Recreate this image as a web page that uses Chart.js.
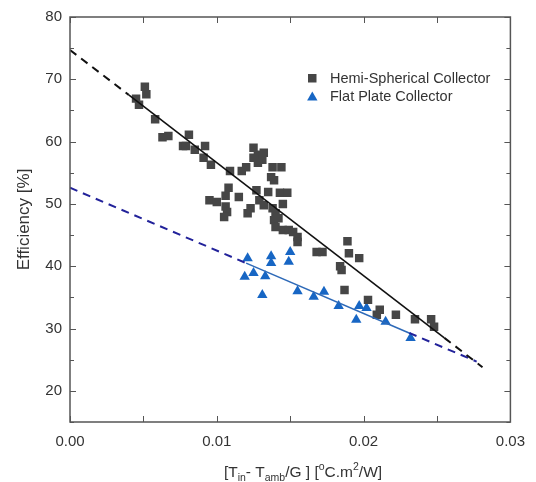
<!DOCTYPE html>
<html>
<head>
<meta charset="utf-8">
<script src="https://cdn.jsdelivr.net/npm/chart.js@4"></script>
<style>
html,body{margin:0;padding:0;background:#fff;}
#c{display:block;}
</style>
</head>
<body>
<canvas id="c" width="536" height="482"></canvas>
<script>
// ---- Data ----
const hemiX = [0.0045,0.0047,0.0051,0.0052,0.0058,0.0063,0.0067,0.0077,0.0079,0.0081,
  0.0085,0.0092,0.0091,0.0096,0.0109,0.0117,0.0120,0.0125,0.0125,0.0128,
  0.0132,0.0131,0.0128,0.0138,0.0144,0.0137,0.0139,0.0108,0.0115,0.0095,
  0.0100,0.0106,0.0106,0.0107,0.0105,0.0127,0.0135,0.0143,0.0148,0.0145,
  0.0129,0.0123,0.0121,0.0132,0.0138,0.0140,0.0139,0.0142,0.0140,0.0145,
  0.0149,0.0152,0.0155,0.0155,0.0168,0.0172,0.0189,0.0190,0.0197,0.0184,
  0.0185,0.0187,0.0203,0.0211,0.0209,0.0222,0.0235,0.0246,0.0248];
const hemiY = [66.9,65.9,68.8,67.6,63.6,60.7,60.9,59.3,59.3,61.1,
  58.7,59.3,57.4,56.3,55.3,55.3,55.9,59.0,57.4,57.9,
  58.2,57.1,56.6,55.9,55.9,54.3,53.8,52.6,51.1,50.6,
  50.3,51.3,49.6,48.7,47.9,52.2,51.9,51.8,51.8,50.0,
  50.6,49.3,48.5,49.8,49.3,48.5,47.4,47.7,46.3,45.8,
  45.8,45.5,44.7,43.9,42.3,42.3,44.0,42.1,41.3,40.0,
  39.4,36.2,34.6,33.0,32.2,32.2,31.5,31.5,30.3];
const flatX = [0.0121,0.0119,0.0125,0.0131,0.0133,0.0137,0.0137,0.0150,0.0149,0.0155,
  0.0166,0.0173,0.0183,0.0197,0.0202,0.0195,0.0215,0.0232];
const flatY = [41.3,38.3,38.9,35.4,38.4,41.6,40.5,42.3,40.7,36.0,
  35.1,35.9,33.6,33.6,33.3,31.4,31.1,28.5];
// fitted lines (endpoints)
const hemiFitX = [0, 0.0040, 0.0255, 0.0281];
const hemiFitY = [74.7, 67.5, 28.5, 23.8];
const flatFitX = [0, 0.0120, 0.0231, 0.0277];
const flatFitY = [52.6, 40.5, 29.3, 24.7];
const xTickLabels = ['0.00','0.01','0.02','0.03'];
const yTickLabels = ['20','30','40','50','60','70','80'];
const legendLabels = ['Hemi-Spherical Collector','Flat Plate Collector'];

const pts = (xs, ys) => xs.map((x, i) => ({x, y: ys[i]}));
const seg = (xs, ys, a, b) => [{x: xs[a], y: ys[a]}, {x: xs[b], y: ys[b]}];

const SQ = '#464646', TRI = '#1766c4';

const framePlugin = {
  id: 'frame',
  afterDraw(chart) {
    const ctx = chart.ctx, a = chart.chartArea;
    const xs = chart.scales.x, ys = chart.scales.y;
    ctx.save();
    ctx.strokeStyle = '#555';
    ctx.lineWidth = 1.5;
    ctx.strokeRect(a.left, a.top, a.right - a.left, a.bottom - a.top);
    ctx.lineWidth = 1;
    ctx.beginPath();
    xs.ticks.forEach(t => {
      const p = Math.round(xs.getPixelForValue(t.value)) + 0.5;
      const major = xTickLabels.includes(Number(t.value).toFixed(2));
      const L = major ? 6 : 4;
      ctx.moveTo(p, a.bottom); ctx.lineTo(p, a.bottom - L);
      ctx.moveTo(p, a.top); ctx.lineTo(p, a.top + L);
    });
    ys.ticks.forEach(t => {
      const p = Math.round(ys.getPixelForValue(t.value)) + 0.5;
      const major = yTickLabels.includes(String(Math.round(t.value))) ;
      const L = major ? 6 : 4;
      ctx.moveTo(a.left, p); ctx.lineTo(a.left + L, p);
      ctx.moveTo(a.right, p); ctx.lineTo(a.right - L, p);
    });
    ctx.stroke();

    // legend
    ctx.fillStyle = SQ;
    ctx.fillRect(308, 74, 8.5, 8.5);
    ctx.fillStyle = TRI;
    ctx.beginPath();
    ctx.moveTo(312.3, 91.5); ctx.lineTo(317.5, 100.5); ctx.lineTo(307.1, 100.5); ctx.closePath();
    ctx.fill();
    ctx.fillStyle = '#333';
    ctx.font = '14.5px "Liberation Sans", Arial, sans-serif';
    ctx.textBaseline = 'middle';
    ctx.textAlign = 'left';
    ctx.fillText(legendLabels[0], 330, 78.5);
    ctx.fillText(legendLabels[1], 330, 97);

    // x axis title with sub/superscripts
    const parts = [
      ['[T', 0], ['in', -1], ['- T', 0], ['amb', -1], ['/G ] [', 0], ['o', 1], ['C.m', 0], ['2', 1], ['/W]', 0]
    ];
    const big = '15.5px "Liberation Sans", Arial, sans-serif';
    const small = '10.5px "Liberation Sans", Arial, sans-serif';
    ctx.textBaseline = 'alphabetic';
    let total = 0;
    parts.forEach(([s, k]) => { ctx.font = k ? small : big; total += ctx.measureText(s).width; });
    let x = 303 - total / 2;
    const base = 477;
    parts.forEach(([s, k]) => {
      ctx.font = k ? small : big;
      const dy = k === -1 ? 4 : (k === 1 ? -7 : 0);
      ctx.fillText(s, x, base + dy);
      x += ctx.measureText(s).width;
    });
    ctx.restore();
  }
};

new Chart(document.getElementById('c'), {
  type: 'scatter',
  data: {
    datasets: [
      {label: legendLabels[0], data: pts(hemiX, hemiY), pointStyle: 'rect', pointRadius: 6,
       backgroundColor: SQ, borderColor: SQ, borderWidth: 0, order: 2},
      {label: legendLabels[1], data: pts(flatX, flatY), pointStyle: 'triangle', pointRadius: 6,
       backgroundColor: TRI, borderColor: TRI, borderWidth: 0, order: 2},
      {data: seg(hemiFitX, hemiFitY, 0, 1), showLine: true, pointRadius: 0, borderColor: '#111', borderWidth: 2, borderDash: [8, 6], order: 1},
      {data: seg(hemiFitX, hemiFitY, 1, 2), showLine: true, pointRadius: 0, borderColor: '#111', borderWidth: 1.6, order: 1},
      {data: seg(hemiFitX, hemiFitY, 2, 3), showLine: true, pointRadius: 0, borderColor: '#111', borderWidth: 2, borderDash: [8, 6], order: 1},
      {data: seg(flatFitX, flatFitY, 0, 1), showLine: true, pointRadius: 0, borderColor: '#22229a', borderWidth: 2, borderDash: [8, 6], order: 1},
      {data: seg(flatFitX, flatFitY, 1, 2), showLine: true, pointRadius: 0, borderColor: '#2e6ab8', borderWidth: 1.6, order: 1},
      {data: seg(flatFitX, flatFitY, 2, 3), showLine: true, pointRadius: 0, borderColor: '#22229a', borderWidth: 2, borderDash: [8, 6], order: 1}
    ]
  },
  options: {
    responsive: false,
    animation: false,
    devicePixelRatio: 1,
    layout: {padding: {top: 17, right: 16, left: 0, bottom: 0}},
    plugins: {legend: {display: false}, tooltip: {enabled: false}, title: {display: false}},
    scales: {
      x: {
        type: 'linear', min: 0, max: 0.03,
        grid: {display: false, drawTicks: false},
        border: {display: false},
        afterFit(s) { s.height = 60; },
        ticks: {
          stepSize: 0.005, padding: 11, maxRotation: 0, autoSkip: false,
          color: '#333', font: {family: '"Liberation Sans", Arial, sans-serif', size: 15},
          callback(v) { const s = Number(v).toFixed(2); return xTickLabels.includes(s) && Math.abs(v*100 - Math.round(v*100)) < 1e-6 ? s : ''; }
        }
      },
      y: {
        type: 'linear', min: 15, max: 80,
        grid: {display: false, drawTicks: false},
        border: {display: false},
        afterFit(s) { s.width = 70; },
        title: {display: true, text: 'Efficiency [%]', color: '#333', padding: {top: 14, bottom: 0},
          font: {family: '"Liberation Sans", Arial, sans-serif', size: 17}},
        ticks: {
          stepSize: 5, padding: 8, autoSkip: false,
          color: '#333', font: {family: '"Liberation Sans", Arial, sans-serif', size: 15},
          callback(v) { const s = String(Math.round(v)); return (Math.round(v) % 10 === 0 && yTickLabels.includes(s)) ? s : ''; }
        }
      }
    }
  },
  plugins: [framePlugin]
});
</script>
</body>
</html>
